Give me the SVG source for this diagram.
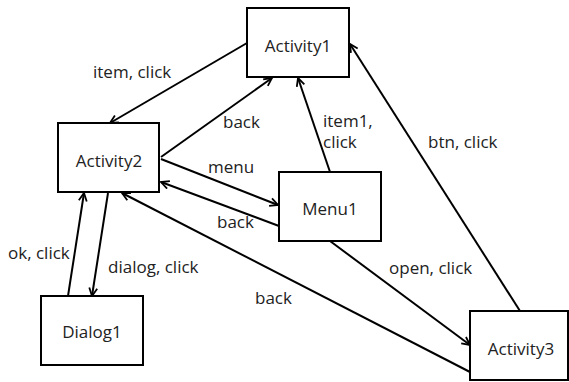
<svg xmlns="http://www.w3.org/2000/svg" width="569" height="382" viewBox="0 0 569 382">
<style>
.n rect{fill:#fff;stroke:#000;stroke-width:2}
text{font-family:"Open Sans","Liberation Sans",sans-serif;font-size:17px;fill:#222}
.n text{text-anchor:middle}
#edges line{stroke:#000;stroke-width:2;marker-end:url(#ah)}
</style>
<defs>
<marker id="ah" viewBox="0 0 10 10" refX="9" refY="5" markerWidth="10" markerHeight="10" markerUnits="userSpaceOnUse" orient="auto">
<path d="M1,1 L9,5 L1,9" fill="none" stroke="#000" stroke-width="1.8"/>
</marker>
</defs>
<g id="edges">
<line x1="247" y1="43" x2="110" y2="123"/>
<line x1="161" y1="157" x2="272" y2="78"/>
<line x1="161" y1="159" x2="278" y2="205"/>
<line x1="279" y1="226" x2="161" y2="182"/>
<line x1="330" y1="172" x2="298" y2="78"/>
<line x1="520" y1="311" x2="350" y2="44"/>
<line x1="330" y1="241" x2="470" y2="345"/>
<line x1="470" y1="372" x2="122" y2="193"/>
<line x1="68" y1="296" x2="84" y2="193"/>
<line x1="108" y1="193" x2="92" y2="296"/>
<text x="93" y="78">item, click</text>
<text x="223" y="128">back</text>
<text x="208" y="173">menu</text>
<text x="217" y="228">back</text>
<text x="323" y="127">item1,</text>
<text x="323" y="148">click</text>
<text x="428" y="148">btn, click</text>
<text x="389" y="274">open, click</text>
<text x="255" y="304">back</text>
<text x="8" y="259">ok, click</text>
<text x="108" y="273">dialog, click</text>
</g>
<g id="Activity1" class="n"><rect x="247" y="8" width="102" height="69"/><text x="298" y="52">Activity1</text></g>
<g id="Activity2" class="n"><rect x="58" y="123" width="101" height="69"/><text x="109" y="167">Activity2</text></g>
<g id="Menu1" class="n"><rect x="279" y="172" width="102" height="69"/><text x="330" y="215">Menu1</text></g>
<g id="Dialog1" class="n"><rect x="41" y="296" width="102" height="69"/><text x="92" y="338">Dialog1</text></g>
<g id="Activity3" class="n"><rect x="470" y="311" width="98" height="69"/><text x="521" y="355">Activity3</text></g>
</svg>
